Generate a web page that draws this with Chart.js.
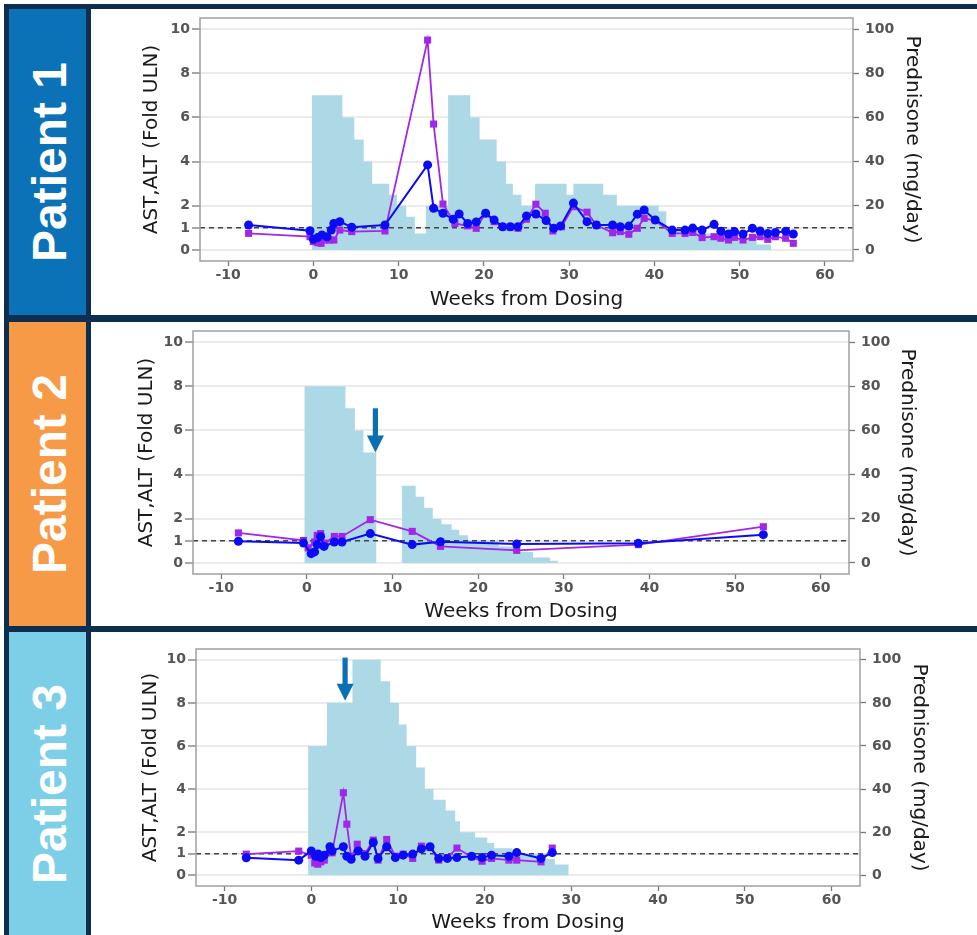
<!DOCTYPE html>
<html>
<head>
<meta charset="utf-8">
<script src="https://cdn.jsdelivr.net/npm/chart.js@4.4.1/dist/chart.umd.min.js"></script>
<style>
html,body{margin:0;padding:0;background:#fff;width:977px;height:935px;overflow:hidden;}
#frame{position:absolute;left:4px;top:4px;width:973px;height:931px;background:#0c2e4f;}
.banner{position:absolute;left:9px;width:77px;overflow:hidden;}
.banner span{position:absolute;left:41px;top:50%;transform:translate(-50%,-50%) rotate(-90deg);white-space:nowrap;color:#fff;font-weight:bold;font-size:48px;font-family:"Liberation Sans",Arial,sans-serif;line-height:48px;}
.panel{position:absolute;left:91px;width:886px;background:#fff;}
.panel canvas{position:absolute;left:0;top:0;}
</style>
</head>
<body>
<div id="frame"></div>
<div class="banner" style="top:9px;height:306px;background:#0b72b7;"><span>Patient 1</span></div>
<div class="banner" style="top:322px;height:304px;background:#f79a48;"><span>Patient 2</span></div>
<div class="banner" style="top:632px;height:303px;background:#7ccfe6;"><span>Patient 3</span></div>
<div class="panel" style="top:9px;height:306px;"><canvas id="c1" width="886" height="306"></canvas></div>
<div class="panel" style="top:322px;height:304px;"><canvas id="c2" width="886" height="304"></canvas></div>
<div class="panel" style="top:632px;height:303px;"><canvas id="c3" width="886" height="303"></canvas></div>
<script>
// ---------- axis ticks ----------
const X_TICKS = [-10, 0, 10, 20, 30, 40, 50, 60];
const Y_TICKS = [0, 1, 2, 4, 6, 8, 10];
const PRED_TICKS = [0, 20, 40, 60, 80, 100];
const X_MIN = -13.3, X_MAX = 63.3;
const Y_MIN = -0.5, Y_MAX = 10.5;
const PRED_MIN = -5, PRED_MAX = 105;
const ULN = 1;

// ---------- Patient 1 ----------
const p1AstWeeks = [-7.6, -0.4, 0.0, 0.5, 1.0, 1.6, 2.1, 2.4, 3.1, 4.5, 8.4, 13.4, 14.1, 15.2, 16.4, 17.1, 18.1, 19.1, 20.2, 21.2, 22.2, 23.1, 24.0, 25.0, 26.1, 27.3, 28.2, 29.0, 30.5, 32.1, 33.2, 35.1, 36.0, 37.0, 38.0, 38.8, 40.1, 42.1, 43.6, 44.5, 45.6, 47.0, 47.8, 48.7, 49.4, 50.4, 51.5, 52.4, 53.3, 54.2, 55.4, 56.3];
const p1Ast = [1.13, 0.87, 0.48, 0.56, 0.68, 0.6, 0.9, 1.2, 1.28, 1.03, 1.13, 3.85, 1.89, 1.66, 1.39, 1.63, 1.2, 1.27, 1.66, 1.36, 1.05, 1.05, 1.05, 1.54, 1.63, 1.33, 0.98, 1.09, 2.12, 1.28, 1.13, 1.13, 1.05, 1.08, 1.62, 1.81, 1.36, 0.9, 0.9, 0.99, 0.9, 1.16, 0.85, 0.72, 0.83, 0.72, 0.98, 0.86, 0.75, 0.79, 0.85, 0.72];
const p1AltWeeks = [-7.6, -0.4, 0.0, 0.5, 0.9, 1.4, 1.9, 2.4, 3.1, 4.5, 8.4, 13.4, 14.1, 15.2, 16.6, 18.1, 19.1, 20.2, 21.2, 22.2, 23.1, 24.0, 25.0, 26.1, 27.2, 28.1, 29.1, 30.5, 32.1, 33.2, 35.1, 36.0, 37.0, 38.0, 38.8, 40.1, 42.1, 43.6, 44.5, 45.6, 47.0, 47.8, 48.7, 49.4, 50.4, 51.5, 52.4, 53.3, 54.2, 55.4, 56.3];
const p1Alt = [0.75, 0.6, 0.38, 0.33, 0.3, 0.45, 0.45, 0.45, 0.9, 0.83, 0.86, 9.5, 5.7, 2.08, 1.2, 1.09, 0.98, 1.66, 1.28, 1.05, 1.03, 0.98, 1.39, 2.07, 1.66, 0.86, 1.05, 1.96, 1.71, 1.13, 0.78, 0.83, 0.71, 0.98, 1.43, 1.33, 0.75, 0.75, 0.79, 0.56, 0.6, 0.53, 0.45, 0.57, 0.45, 0.57, 0.6, 0.48, 0.6, 0.53, 0.3];
const p1PredWeeks = [-0.2, 3.4, 4.8, 5.9, 6.9, 8.9, 9.8, 10.9, 11.9, 13.2, 15.8, 18.4, 19.5, 21.5, 22.6, 23.4, 24.4, 26.0, 29.7, 30.5, 34.0, 35.6, 40.5, 41.4, 45.3, 49.2, 52.0, 53.7];
const p1PredDose = [70, 60, 50, 40, 30, 25, 20, 15, 7.5, 20, 70, 60, 50, 40, 30, 25, 20, 30, 25, 30, 25, 20, 17.5, 10, 7.5, 5, 2.5, 0];
const p1ArrowWeek = [], p1ArrowFrom = [], p1ArrowTo = [];

// ---------- Patient 2 ----------
const p2AstWeeks = [-8.0, -0.4, 0.5, 0.9, 1.2, 1.6, 2.0, 3.2, 4.1, 7.4, 12.3, 15.6, 24.5, 38.7, 53.3];
const p2Ast = [0.98, 0.9, 0.42, 0.5, 0.83, 1.2, 0.75, 0.95, 0.95, 1.33, 0.83, 0.96, 0.86, 0.89, 1.28];
const p2AltWeeks = [-8.0, -0.4, 0.15, 0.9, 1.2, 1.6, 2.1, 3.2, 4.1, 7.4, 12.3, 15.6, 24.5, 38.7, 53.3];
const p2Alt = [1.36, 1.02, 0.68, 0.95, 1.25, 1.33, 0.9, 1.2, 1.2, 1.96, 1.43, 0.75, 0.57, 0.83, 1.64];
const p2PredWeeks = [-0.3, 4.5, 5.6, 6.6, 8.1, 11.1, 12.7, 13.7, 14.7, 15.7, 16.9, 17.8, 18.8, 22.4, 24.5, 26.4, 28.4, 29.3];
const p2PredDose = [80, 70, 60, 50, 0, 35, 30, 25, 20, 17.5, 15, 12.5, 10, 7.5, 5, 2.5, 1, 0];
const p2ArrowWeek = [8.0], p2ArrowFrom = [7.0], p2ArrowTo = [5.0];

// ---------- Patient 3 ----------
const p3AstWeeks = [-7.5, -1.45, 0.0, 0.5, 0.8, 1.1, 1.5, 2.15, 2.4, 3.7, 4.1, 4.6, 5.4, 6.2, 7.15, 7.7, 8.7, 9.7, 10.6, 11.7, 12.7, 13.7, 14.7, 15.7, 16.8, 18.5, 19.7, 20.8, 22.8, 23.7, 26.5, 27.8];
const p3Ast = [0.81, 0.7, 1.13, 0.88, 0.98, 0.82, 0.93, 1.32, 1.13, 1.32, 0.88, 0.74, 1.13, 0.88, 1.52, 0.78, 1.32, 0.82, 0.93, 0.98, 1.22, 1.32, 0.78, 0.78, 0.82, 0.88, 0.82, 0.93, 0.88, 1.05, 0.78, 1.05];
const p3AltWeeks = [-7.5, -1.45, 0.0, 0.4, 0.75, 1.1, 1.5, 2.15, 2.4, 3.7, 4.1, 4.6, 5.3, 6.2, 7.15, 7.7, 8.7, 9.7, 10.6, 11.7, 12.7, 13.7, 14.7, 15.7, 16.8, 18.5, 19.7, 20.8, 22.8, 23.7, 26.5, 27.8];
const p3Alt = [0.98, 1.12, 0.93, 0.57, 0.51, 0.62, 0.7, 1.08, 1.04, 3.83, 2.37, 0.82, 1.44, 1.0, 1.63, 0.7, 1.66, 0.88, 0.98, 0.78, 1.35, 1.29, 0.7, 0.82, 1.26, 0.85, 0.65, 0.78, 0.7, 0.7, 0.62, 1.26];
const p3PredWeeks = [-0.37, 1.8, 4.75, 8.0, 9.1, 10.1, 11.0, 12.1, 13.1, 14.1, 15.5, 16.6, 17.15, 18.9, 20.3, 21.1, 23.2, 27.0, 28.1, 29.7];
const p3PredDose = [60, 80, 100, 90, 80, 70, 60, 50, 40, 35, 30, 25, 20, 17.5, 15, 12.5, 10, 7.5, 5, 0];
const p3ArrowWeek = [3.9], p3ArrowFrom = [10.1], p3ArrowTo = [8.1];

// ---------- styling ----------
const AST_COLOR = '#0b0bf5';
const ALT_COLOR = '#a226e8';
const PRED_COLOR = '#add8e6';
const ARROW_COLOR = '#0b6fb3';
const FONT = '"DejaVu Sans", sans-serif';
const TICK_FONT = {family: FONT, size: 14, weight: 'bold'};
const TITLE_FONT = {family: FONT, size: 20};
const TICK_COLOR = '#555555';

const toXY = (xs, ys) => xs.map((x, i) => ({x: x, y: ys[i]}));
const noPad = s => { s.paddingTop = 0; s.paddingBottom = 0; s.paddingLeft = 0; s.paddingRight = 0; };

const framePlugin = {
  id: 'frame',
  afterDatasetsDraw(chart) {
    const {ctx, chartArea: a} = chart;
    ctx.save();
    ctx.strokeStyle = '#a0a0a0';
    ctx.lineWidth = 1.5;
    ctx.strokeRect(a.left, a.top, a.right - a.left, a.bottom - a.top);
    ctx.restore();
  }
};

const arrowPlugin = {
  id: 'arrowMark',
  afterDatasetsDraw(chart, args, opts) {
    const weeks = opts.weeks || [];
    const {ctx} = chart;
    const xs = chart.scales.x, ys = chart.scales.y;
    weeks.forEach((w, i) => {
      const x = xs.getPixelForValue(w);
      const y1 = ys.getPixelForValue(opts.from[i]);
      const y2 = ys.getPixelForValue(opts.to[i]);
      const head = 17, halfHead = 8.5, halfShaft = 2.6;
      ctx.save();
      ctx.fillStyle = ARROW_COLOR;
      ctx.fillRect(x - halfShaft, y1, halfShaft * 2, (y2 - head) - y1 + 1);
      ctx.beginPath();
      ctx.moveTo(x - halfHead, y2 - head);
      ctx.lineTo(x + halfHead, y2 - head);
      ctx.lineTo(x, y2);
      ctx.closePath();
      ctx.fill();
      ctx.restore();
    });
  }
};

function buildChart(id, d, L) {
  return new Chart(document.getElementById(id), {
    type: 'line',
    data: {
      datasets: [
        {label: 'AST', data: toXY(d.astW, d.ast), yAxisID: 'y', order: 1,
         borderColor: AST_COLOR, backgroundColor: AST_COLOR, borderWidth: 2,
         pointStyle: 'circle', pointRadius: 4.5, pointBorderWidth: 0, tension: 0},
        {label: 'ALT', data: toXY(d.altW, d.alt), yAxisID: 'y', order: 2,
         borderColor: ALT_COLOR, backgroundColor: ALT_COLOR, borderWidth: 1.8,
         pointStyle: 'rect', pointRadius: 5, pointBorderWidth: 0, tension: 0},
        {label: 'ULN', data: [{x: X_MIN, y: ULN}, {x: X_MAX, y: ULN}], yAxisID: 'y', order: 3,
         borderColor: '#444444', borderDash: [5, 4], borderWidth: 1.5, pointRadius: 0},
        {label: 'Prednisone', data: toXY(d.predW, d.pred), yAxisID: 'y2', order: 4,
         stepped: 'before', fill: 'origin', backgroundColor: PRED_COLOR,
         borderColor: 'rgba(0,0,0,0)', borderWidth: 1, pointRadius: 0}
      ]
    },
    options: {
      responsive: false, animation: false, events: [],
      layout: {padding: {left: L.padL, right: L.padR, top: L.padT, bottom: L.padB}},
      plugins: {
        legend: {display: false}, tooltip: {enabled: false},
        arrowMark: {weeks: d.arrowW, from: d.arrowFrom, to: d.arrowTo}
      },
      scales: {
        x: {
          type: 'linear', position: 'bottom', min: X_MIN, max: X_MAX,
          afterBuildTicks: s => { s.ticks = X_TICKS.map(v => ({value: v})); },
          afterFit: s => { s.height = L.xH; noPad(s); },
          ticks: {font: TICK_FONT, color: TICK_COLOR, padding: 1, maxRotation: 0, autoSkip: false},
          grid: {drawOnChartArea: false, drawTicks: true, tickLength: 5, tickColor: '#777', tickWidth: 1.3},
          border: {display: false},
          title: {display: true, text: 'Weeks from Dosing', font: TITLE_FONT, color: '#1a1a1a', padding: 0}
        },
        y: {
          type: 'linear', position: 'left', min: Y_MIN, max: Y_MAX,
          afterBuildTicks: s => { s.ticks = Y_TICKS.map(v => ({value: v})); },
          afterFit: s => { s.width = L.yW; noPad(s); },
          ticks: {font: TICK_FONT, color: TICK_COLOR, padding: 2, autoSkip: false},
          grid: {color: '#ebebeb', lineWidth: 2, tickLength: 8, tickColor: '#777', tickWidth: 1.3},
          border: {display: false},
          title: {display: true, text: 'AST,ALT (Fold ULN)', font: TITLE_FONT, color: '#1a1a1a', padding: 0}
        },
        y2: {
          type: 'linear', position: 'right', min: PRED_MIN, max: PRED_MAX,
          afterBuildTicks: s => { s.ticks = PRED_TICKS.map(v => ({value: v})); },
          afterFit: s => { s.width = L.rW; noPad(s); },
          ticks: {font: TICK_FONT, color: TICK_COLOR, padding: 6, autoSkip: false},
          grid: {drawOnChartArea: false, tickLength: 6, tickColor: '#777', tickWidth: 1.3},
          border: {display: false},
          title: {display: true, text: 'Prednisone (mg/day)', font: TITLE_FONT, color: '#1a1a1a', padding: 0}
        }
      }
    },
    plugins: [framePlugin, arrowPlugin]
  });
}

buildChart('c1',
  {astW: p1AstWeeks, ast: p1Ast, altW: p1AltWeeks, alt: p1Alt, predW: p1PredWeeks, pred: p1PredDose,
   arrowW: p1ArrowWeek, arrowFrom: p1ArrowFrom, arrowTo: p1ArrowTo},
  {padL: 49, yW: 60, rW: 71.5, padR: 52.5, padT: 9, xH: 51, padB: 3});
buildChart('c2',
  {astW: p2AstWeeks, ast: p2Ast, altW: p2AltWeeks, alt: p2Alt, predW: p2PredWeeks, pred: p2PredDose,
   arrowW: p2ArrowWeek, arrowFrom: p2ArrowFrom, arrowTo: p2ArrowTo},
  {padL: 44, yW: 58, rW: 70, padR: 58, padT: 9, xH: 50, padB: 2});
buildChart('c3',
  {astW: p3AstWeeks, ast: p3Ast, altW: p3AltWeeks, alt: p3Alt, predW: p3PredWeeks, pred: p3PredDose,
   arrowW: p3ArrowWeek, arrowFrom: p3ArrowFrom, arrowTo: p3ArrowTo},
  {padL: 48, yW: 57, rW: 71, padR: 46, padT: 17, xH: 49, padB: 0});
</script>
</body>
</html>
